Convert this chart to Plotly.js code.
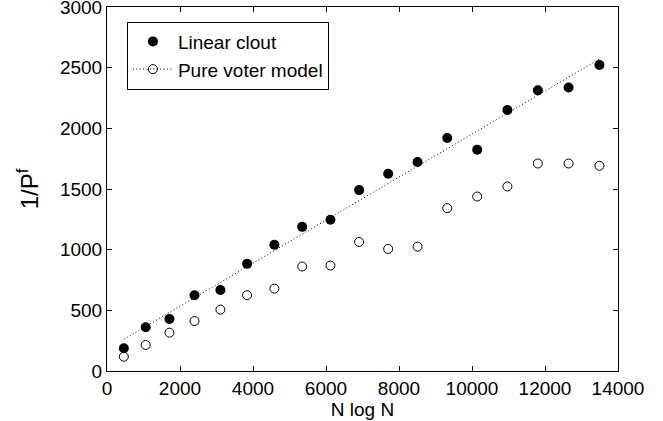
<!DOCTYPE html>
<html>
<head>
<meta charset="utf-8">
<script src="https://cdn.plot.ly/plotly-3.0.1.min.js"></script>
<style>html,body{margin:0;padding:0;background:#fff;}#chart{width:663px;height:421px;}</style>
</head>
<body>
<div id="chart"></div>
<script>
// N log N values (x)
var nLogN = [461, 1060, 1711, 2397, 3107, 3838, 4586, 5348, 6122, 6908, 7703, 8508, 9322, 10142, 10970, 11804, 12646, 13492];
// 1/P^f, linear clout (filled circles)
var linearClout = [187, 360, 429, 625, 668, 883, 1040, 1188, 1246, 1491, 1625, 1722, 1920, 1823, 2151, 2313, 2337, 2522];
// 1/P^f, pure voter model (open circles)
var pureVoter = [118, 215, 316, 412, 506, 625, 679, 861, 869, 1064, 1006, 1025, 1342, 1438, 1521, 1710, 1710, 1691];
var xTicks = [0, 2000, 4000, 6000, 8000, 10000, 12000, 14000];
var yTicks = [0, 500, 1000, 1500, 2000, 2500, 3000];

// least-squares fit of the linear clout points
var n = nLogN.length, sx = 0, sy = 0, sxx = 0, sxy = 0;
for (var i = 0; i < n; i++) { sx += nLogN[i]; sy += linearClout[i]; sxx += nLogN[i]*nLogN[i]; sxy += nLogN[i]*linearClout[i]; }
var slope = (n*sxy - sx*sy) / (n*sxx - sx*sx);
var icpt = (sy - slope*sx) / n;
var fitX = [nLogN[0], nLogN[n-1]];
var fitY = fitX.map(function (v) { return icpt + slope*v; });

// open points separated by gaps so no connecting line is drawn (legend still shows the dotted line)
var pvX = [], pvY = [];
for (var j = 0; j < n; j++) { pvX.push(nLogN[j], null); pvY.push(pureVoter[j], null); }

var font = 'Liberation Sans, Arial, Helvetica, sans-serif';
var dotted = '1px,2.4px';
var traces = [
  {x: fitX, y: fitY, mode: 'lines', line: {color: 'black', width: 1, dash: dotted}, showlegend: false, hoverinfo: 'skip'},
  {x: nLogN, y: linearClout, mode: 'markers', name: 'Linear clout',
   marker: {symbol: 'circle', size: 10, color: 'black'}},
  {x: pvX, y: pvY, mode: 'lines+markers', name: 'Pure voter model', connectgaps: false,
   line: {color: 'black', width: 1, dash: dotted},
   marker: {symbol: 'circle-open', size: 9, color: 'black', line: {width: 1}}}
];

var axisCommon = {showline: true, linecolor: 'black', linewidth: 1, mirror: 'ticks',
  ticks: 'inside', ticklen: 5, tickcolor: 'black', tickwidth: 1, showgrid: false, zeroline: false,
  ticklabeloverflow: 'allow',
  tickfont: {family: font, size: 19, color: 'black'}};

var layout = {
  width: 663, height: 421,
  margin: {l: 107, r: 45, t: 7, b: 50},
  paper_bgcolor: 'white', plot_bgcolor: 'white',
  font: {family: font, color: 'black'},
  xaxis: Object.assign({}, axisCommon, {range: [0, 14000], tickvals: xTicks, ticktext: xTicks.map(String),
    title: {text: 'N log N', font: {family: font, size: 19, color: 'black'}, standoff: 0}}),
  yaxis: Object.assign({}, axisCommon, {range: [0, 3000], tickvals: yTicks, ticktext: yTicks.map(String),
    title: {text: '1/P<sup>f</sup>', font: {family: font, size: 24, color: 'black'}, standoff: 14}}),
  legend: {x: 0.039, y: 0.96, xanchor: 'left', yanchor: 'top', bgcolor: 'white',
    bordercolor: 'black', borderwidth: 1, font: {family: font, size: 19, color: 'black'},
    tracegroupgap: 0, itemwidth: 40},
  showlegend: true
};

Plotly.newPlot('chart', traces, layout, {displayModeBar: false, staticPlot: true});
</script>
</body>
</html>
